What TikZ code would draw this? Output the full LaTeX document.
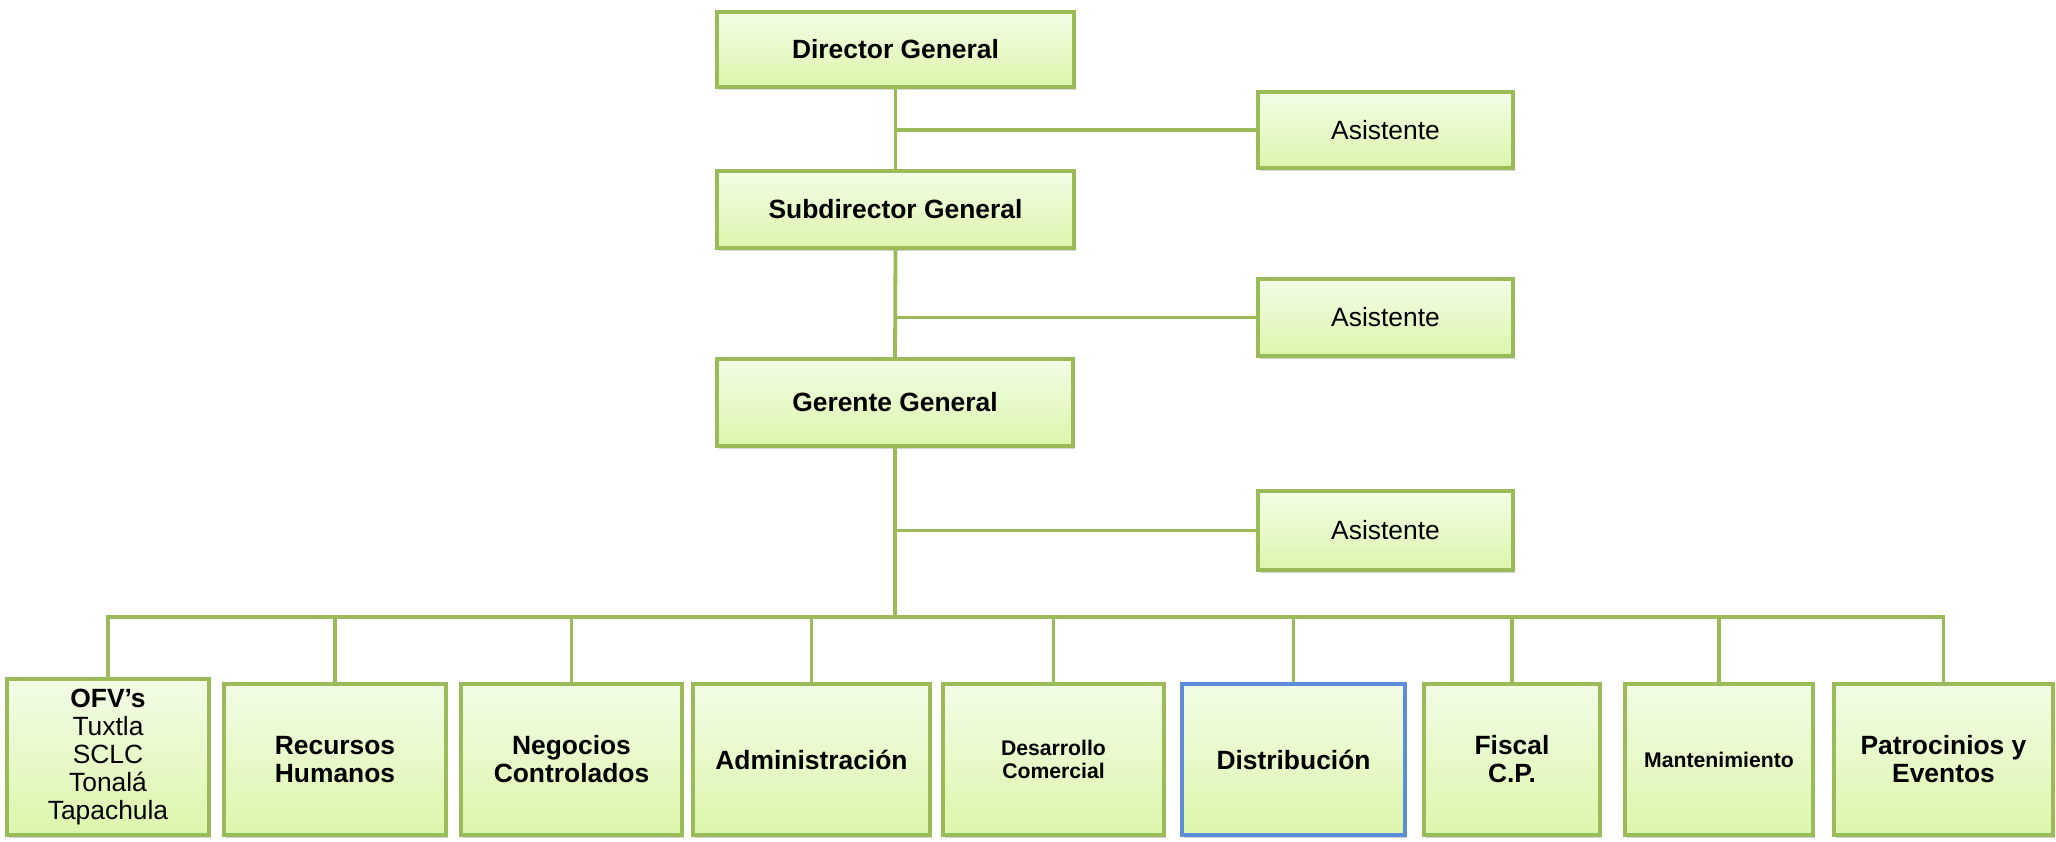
\documentclass[tikz,border=0pt]{standalone}
\usepackage{fontspec}
\setmainfont{Liberation Sans}
\usetikzlibrary{shadows}
\definecolor{olive}{HTML}{9BBB59}
\definecolor{boxtop}{HTML}{F2FCE6}
\definecolor{boxbot}{HTML}{DCF6AC}
\definecolor{blueedge}{HTML}{5B8ED6}
\tikzset{
  orgbox/.style={draw=olive, line width=2pt, top color=boxtop, bottom color=boxbot,
    align=center, inner sep=2pt, text=black,
    drop shadow={shadow xshift=1.2pt, shadow yshift=-1.4pt, opacity=0.28, fill=black!60}},
  bigfont/.style={font=\fontsize{13.2}{14}\selectfont\bfseries},
  plainfont/.style={font=\fontsize{13.2}{14}\selectfont},
  smallfont/.style={font=\fontsize{10.6}{11.6}\selectfont\bfseries},
  conn/.style={draw=olive, line width=1.9pt},
}
\begin{document}
\begin{tikzpicture}[x=0.5pt, y=-0.5pt]
\useasboundingbox (0,0) rectangle (2056,841);

% management chain
\node[orgbox, bigfont, minimum width=178.5pt, minimum height=37.5pt] (dg) at (895.5,49.5) {Director General};
\node[orgbox, bigfont, minimum width=178.5pt, minimum height=38.5pt] (sub) at (895.5,209.5) {Subdirector General};
\node[orgbox, bigfont, minimum width=178pt, minimum height=43.5pt] (ger) at (895,402.5) {Gerente General};

% assistants
\node[orgbox, plainfont, minimum width=127.5pt, minimum height=38pt] (a1) at (1385.5,130) {Asistente};
\node[orgbox, plainfont, minimum width=127.5pt, minimum height=38.5pt] (a2) at (1385.5,317.5) {Asistente};
\node[orgbox, plainfont, minimum width=127.5pt, minimum height=39.5pt] (a3) at (1385.5,530.5) {Asistente};

% departments
\node[orgbox, plainfont, minimum width=101pt, minimum height=78pt] (ofv) at (108,757)
  {\textbf{OFV’s}\\Tuxtla\\SCLC\\Tonalá\\Tapachula};
\node[orgbox, bigfont, minimum width=111pt, minimum height=75.5pt] (rh) at (335,759.5) {Recursos\\Humanos};
\node[orgbox, bigfont, minimum width=110.5pt, minimum height=75.5pt] (neg) at (571.5,759.5) {Negocios\\Controlados};
\node[orgbox, bigfont, minimum width=118.5pt, minimum height=75.5pt] (adm) at (811.5,759.5) {Administración};
\node[orgbox, smallfont, minimum width=110.5pt, minimum height=75.5pt] (des) at (1053.5,759.5) {Desarrollo\\Comercial};
\node[orgbox, bigfont, draw=blueedge, minimum width=111.5pt, minimum height=75.5pt] (dis) at (1293.5,759.5) {Distribución};
\node[orgbox, bigfont, minimum width=88pt, minimum height=75.5pt] (fis) at (1512,759.5) {Fiscal\\C.P.};
\node[orgbox, smallfont, minimum width=94pt, minimum height=75.5pt] (man) at (1719,759.5) {Mantenimiento};
\node[orgbox, bigfont, minimum width=109.5pt, minimum height=75.5pt] (pat) at (1943.5,759.5) {Patrocinios y\\Eventos};

% level of the horizontal bus above the departments
\coordinate (busy) at (0,617);

% spine
\draw[conn] (dg.south) -- (sub.north);
\draw[conn] (sub.south) -- (ger.north);
\draw[conn] (ger.south) -- (ger.south |- busy);

% assistant branches
\draw[conn] (a1.west) -- (a1.west -| dg.south);
\draw[conn] (a2.west) -- (a2.west -| sub.south);
\draw[conn] (a3.west) -- (a3.west -| ger.south);

% bus with end drops
\draw[conn, line join=miter] (ofv.north) -- (ofv.north |- busy) -- (pat.north |- busy) -- (pat.north);
\foreach \d in {rh,neg,adm,des,dis,fis,man}
  \draw[conn] (\d.north) -- (\d.north |- busy);
\end{tikzpicture}
\end{document}
